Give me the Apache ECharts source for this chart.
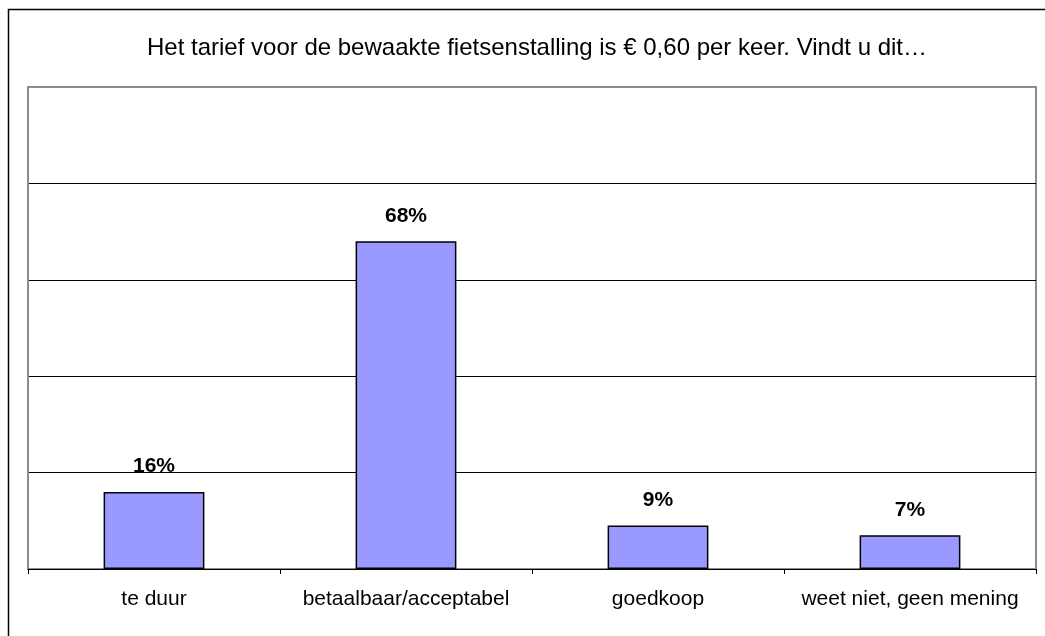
<!DOCTYPE html>
<html>
<head>
<meta charset="utf-8">
<script src="https://cdn.jsdelivr.net/npm/echarts@6/dist/echarts.min.js"></script>
<style>
  html, body { margin: 0; padding: 0; background: #fff; }
  #chart { width: 1045px; height: 636px; }
</style>
</head>
<body>
<div id="chart"></div>
<script>
// survey answers and their share (%)
const categories = ['te duur', 'betaalbaar/acceptabel', 'goedkoop', 'weet niet, geen mening']
const shares = [16, 68, 9, 7]
const titleText = 'Het tarief voor de bewaakte fietsenstalling is € 0,60 per keer. Vindt u dit…'

const chart = echarts.init(document.querySelector('#chart'))

chart.setOption({
    animation: false,
    textStyle: { fontFamily: 'Liberation Sans, Arial, sans-serif' },
    title: {
        text: titleText,
        left: 532,
        textAlign: 'center',
        top: 31,
        textStyle: { fontSize: 24, fontWeight: 'normal', color: '#000' }
    },
    graphic: [
        {
            type: 'rect',
            shape: { x: 8.5, y: 9.5, width: 1100, height: 700 },
            style: { fill: 'none', stroke: '#000', lineWidth: 1.5 },
            silent: true
        }
    ],
    grid: {
        left: 28,
        right: 9,
        top: 87,
        bottom: 67,
        show: true,
        borderColor: '#8c8c8c',
        borderWidth: 2
    },
    xAxis: {
        type: 'category',
        data: categories,
        axisLine: { lineStyle: { color: '#000', width: 1 } },
        axisTick: { show: true, interval: 0, length: 5, lineStyle: { color: '#000' } },
        axisLabel: { interval: 0, hideOverlap: false, fontSize: 21, color: '#000', margin: 20 }
    },
    yAxis: {
        type: 'value',
        min: 0,
        max: 100,
        interval: 20,
        axisLabel: { show: false },
        axisTick: { show: false },
        axisLine: { show: true, lineStyle: { color: '#8c8c8c', width: 2 } },
        splitLine: {
            // top line is the gray plot border
            lineStyle: { color: ['#000', '#000', '#000', '#000', '#000', '#8c8c8c'], width: 1 }
        }
    },
    series: [
        {
            type: 'bar',
            data: shares,
            barWidth: '40%',
            itemStyle: {
                color: '#9999ff',
                borderColor: '#000',
                borderWidth: 1.5
            },
            label: {
                show: true,
                position: 'top',
                distance: 15,
                formatter: p => p.value + '%',
                fontSize: 21,
                fontWeight: 'bold',
                color: '#000'
            }
        }
    ]
})
</script>
</body>
</html>
